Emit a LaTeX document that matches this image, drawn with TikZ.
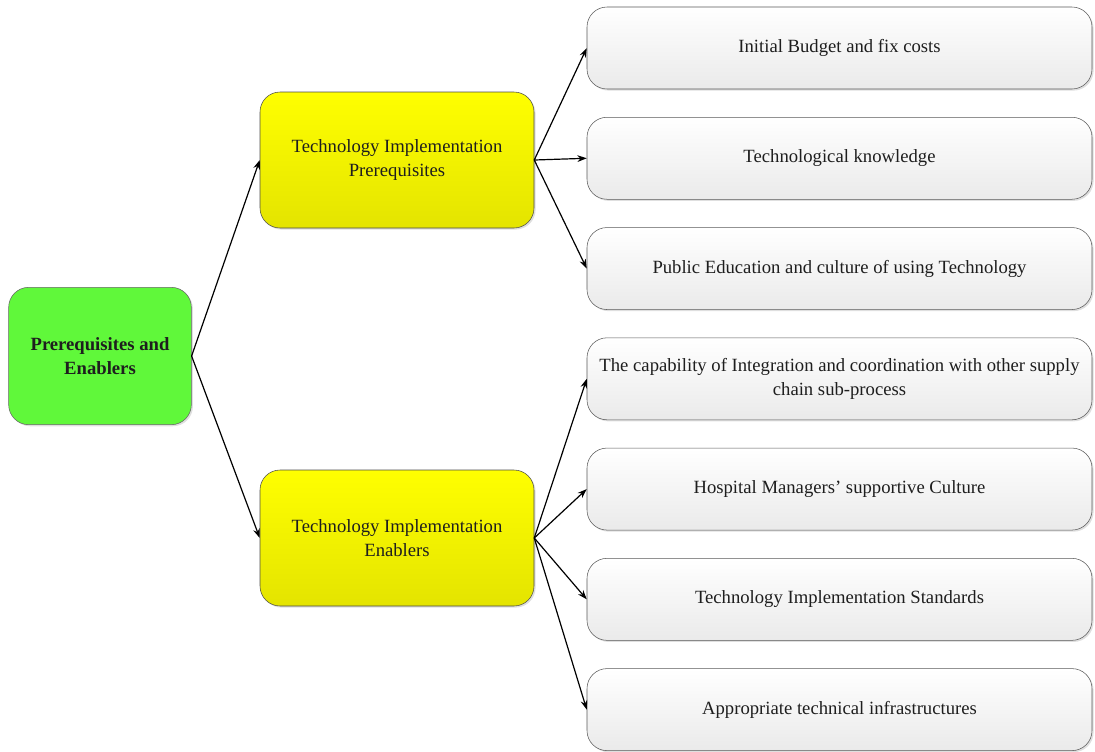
\documentclass[tikz,border=0pt]{standalone}
\usepackage{fontspec}
\setmainfont{Liberation Serif}
\usetikzlibrary{positioning,arrows.meta,shadows}

\definecolor{rootgreen}{RGB}{96,248,58}
\definecolor{groupyellow}{RGB}{255,255,0}
\definecolor{groupyellowdark}{RGB}{228,228,0}
\definecolor{itemgray}{RGB}{234,234,234}
\definecolor{inktext}{RGB}{30,30,30}

\tikzset{
    basebox/.style={rectangle, rounded corners=15pt, align=center, text=inktext,
        font=\fontsize{14}{18}\selectfont, inner sep=2pt,
        drop shadow={shadow xshift=1.2pt, shadow yshift=-1.2pt, opacity=0.25}},
    rootbox/.style={basebox, draw=black!60, fill=rootgreen,
        minimum width=137pt, minimum height=103pt, font=\fontsize{14}{18}\selectfont\bfseries},
    groupbox/.style={basebox, draw=black!70, top color=groupyellow, bottom color=groupyellowdark,
        minimum width=205.5pt, minimum height=102pt},
    itembox/.style={basebox, draw=black!65, top color=white, bottom color=itemgray,
        minimum width=378.75pt, minimum height=61.5pt},
    link/.style={-{Stealth[length=7pt,width=5pt]}, line width=0.9pt, black}
}

\begin{document}
\begin{tikzpicture}[x=0.75pt,y=-0.75pt,node distance=82.7pt,on grid]
    \useasboundingbox (0,0) rectangle (1095,751);

    \node[rootbox] (root) at (100,356) {Prerequisites and\\Enablers};
    \node[groupbox] (prereq) [above right=147pt and 222.75pt of root] {Technology Implementation\\Prerequisites};
    \node[groupbox] (enabler) [below right=136.5pt and 222.75pt of root] {Technology Implementation\\Enablers};

    \node[itembox] (budget) at (839.5,48) {Initial Budget and fix costs};
    \node[itembox] (knowledge) [below=of budget] {Technological knowledge};
    \node[itembox] (education) [below=of knowledge] {Public Education and culture of using Technology};
    \node[itembox] (integration) [below=of education] {The capability of Integration and coordination with other supply\\chain sub-process};
    \node[itembox] (culture) [below=of integration] {Hospital Managers’ supportive Culture};
    \node[itembox] (standards) [below=of culture] {Technology Implementation Standards};
    \node[itembox] (infra) [below=of standards] {Appropriate technical infrastructures};

    \path[link]
        (root.east) edge (prereq.west)
        (root.east) edge (enabler.west)
        (prereq.east) edge (budget.west)
        (prereq.east) edge (knowledge.west)
        (prereq.east) edge (education.west)
        (enabler.east) edge (integration.west)
        (enabler.east) edge (culture.west)
        (enabler.east) edge (standards.west)
        (enabler.east) edge (infra.west);
\end{tikzpicture}
\end{document}
